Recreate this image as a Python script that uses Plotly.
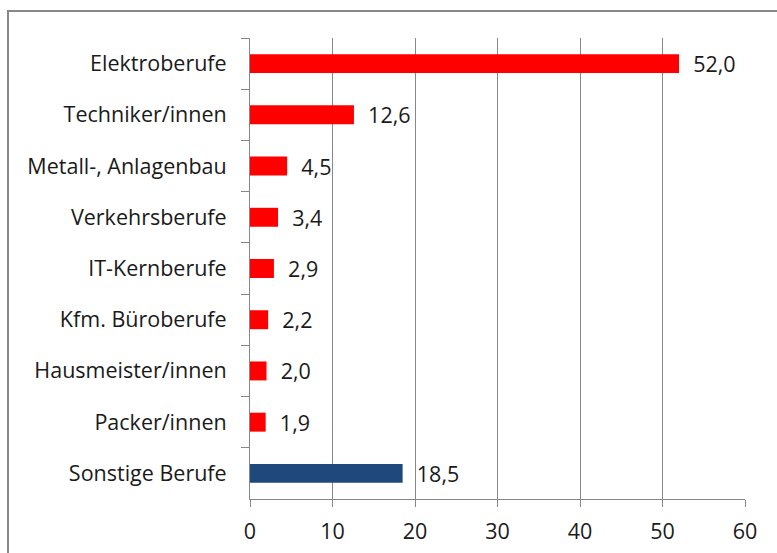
import plotly.graph_objects as go

categories = ["Elektroberufe", "Techniker/innen", "Metall-, Anlagenbau", "Verkehrsberufe",
              "IT-Kernberufe", "Kfm. Büroberufe", "Hausmeister/innen", "Packer/innen",
              "Sonstige Berufe"]
values = [52.0, 12.6, 4.5, 3.4, 2.9, 2.2, 2.0, 1.9, 18.5]
colors = ["#FF0000"] * 8 + ["#1F497D"]
x_ticks = [0, 10, 20, 30, 40, 50, 60]

FONT = "Open Sans"
FS = 21.5
GRID = "#888888"

fig = go.Figure(go.Bar(
    y=categories, x=values, orientation="h",
    marker=dict(color=colors, line=dict(width=0)),
    texttemplate="  %{x:.1f}", textposition="outside", constraintext="none",
    textfont=dict(family=FONT, size=FS, color="#1a1a1a"),
    cliponaxis=False,
))

fig.update_layout(
    width=777, height=553,
    margin=dict(l=250, r=32, t=38, b=54, autoexpand=False),
    paper_bgcolor="white", plot_bgcolor="white",
    separators=",.",
    showlegend=False,
    bargap=0.63,
    font=dict(family=FONT, size=FS, color="#1a1a1a"),
    xaxis=dict(range=[0, 60], tickvals=x_ticks, showgrid=True, gridcolor=GRID, gridwidth=1,
               showline=True, linecolor=GRID, linewidth=1, ticks="outside", ticklen=7,
               tickcolor=GRID, zeroline=False, ticklabelstandoff=6, automargin=False),
    yaxis=dict(autorange="reversed", showline=True, linecolor=GRID, linewidth=1,
               ticks="outside", tickson="boundaries", ticklen=8, tickcolor=GRID,
               showgrid=False, ticklabelstandoff=18, automargin=False),
    shapes=[dict(type="rect", xref="paper", yref="paper",
                 x0=(8 - 250) / 495, x1=1.2, y0=-0.3, y1=1 + (38 - 11) / 461,
                 line=dict(color="#888888", width=2), layer="below")],
)

fig.write_html("out.html", config={"displayModeBar": False},
               post_script="document.body.style.margin='0';document.body.style.overflow='hidden';")
